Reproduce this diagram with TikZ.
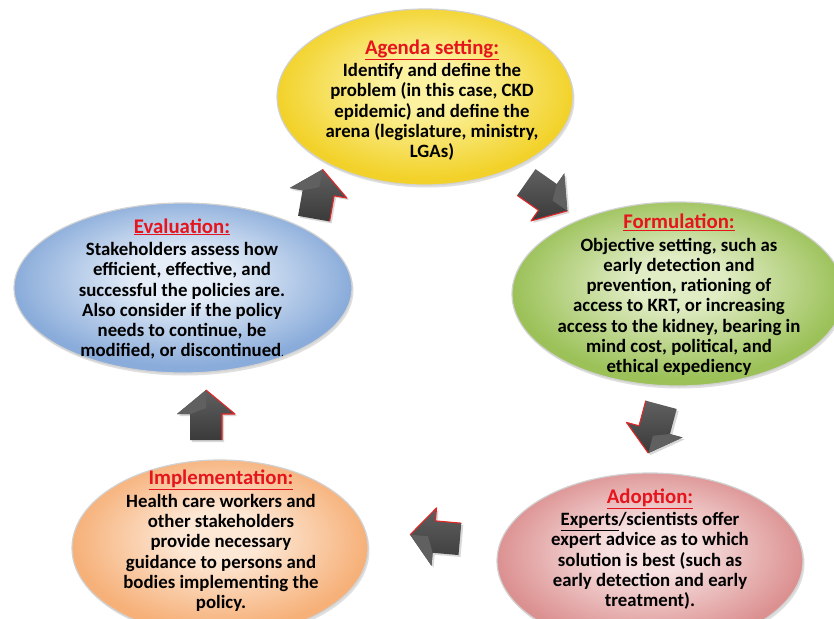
\documentclass[tikz,border=0pt]{standalone}
\usepackage{fontspec}
\setmainfont{Carlito}
\usetikzlibrary{shapes.geometric,shadows}
\definecolor{titlered}{RGB}{230,20,28}
\definecolor{yelin}{RGB}{252,242,160}
\definecolor{yelout}{RGB}{242,210,42}
\definecolor{grnin}{RGB}{224,236,196}
\definecolor{grnout}{RGB}{155,193,88}
\definecolor{bluin}{RGB}{228,237,248}
\definecolor{bluout}{RGB}{138,172,218}
\definecolor{orgin}{RGB}{253,232,214}
\definecolor{orgout}{RGB}{246,176,120}
\definecolor{redin}{RGB}{247,224,224}
\definecolor{redout}{RGB}{220,145,145}
\definecolor{arrdark}{RGB}{58,58,58}
\definecolor{arrlight}{RGB}{96,96,96}
\definecolor{arrred}{RGB}{225,40,40}
\newcommand\mkglossy[3]{\pgfdeclareradialshading{#1}{\pgfpoint{0bp}{4bp}}{color(0bp)=(#2); color(7bp)=(#2); color(25bp)=(#3); color(50bp)=(#3)}}
\mkglossy{glossyyel}{yelin}{yelout}
\mkglossy{glossygrn}{grnin}{grnout}
\mkglossy{glossyblu}{bluin}{bluout}
\mkglossy{glossyorg}{orgin}{orgout}
\mkglossy{glossyred}{redin}{redout}
\newcommand\ttl[1]{{\fontsize{20.8}{20.3}\selectfont\color{titlered}\underline{#1}}}
\newcommand\blockarr[2]{%
  \begin{scope}[shift={#1}, rotate=#2]
    \path[arrowbody] (-24,-16) -- (2,-16) -- (2,-29) -- (26,0) -- (2,29) -- (2,16) -- (-24,16) -- cycle;
    \fill[arrlight] (2,-29) -- (26,0) -- (8,0) -- (2,-16) -- cycle;
    \draw[arrowedge] (-24,16) -- (2,16) -- (2,29) -- (26,0);
  \end{scope}}
\tikzset{
  bubble/.style={ellipse, inner sep=0pt, draw=white!82!black, line width=1.2pt,
    shade, shading=#1,
    drop shadow={opacity=0.25, shadow xshift=1.5pt, shadow yshift=-2.5pt}},
  bodytext/.style={align=center, font=\fontsize{18.8}{20.3}\selectfont\bfseries, inner sep=0pt, text=black},
  arrowbody/.style={top color=arrlight, bottom color=arrdark, shading angle=0,
    drop shadow={opacity=0.3, shadow xshift=2pt, shadow yshift=-2pt}},
  arrowedge/.style={draw=arrred, line width=1.1pt, line join=round}
}
\begin{document}
\begin{tikzpicture}[x=1pt, y=-1pt]
\useasboundingbox[fill=white] (0,0) rectangle (834,618);
% ellipses
\node[bubble=glossyyel, minimum width=296pt, minimum height=176pt] (agenda) at (425,97) {};
\node[bubble=glossygrn, minimum width=332pt, minimum height=184pt] (formulation) at (678,294) {};
\node[bubble=glossyblu, minimum width=338pt, minimum height=170pt] (evaluation) at (183,288) {};
\node[bubble=glossyorg, minimum width=296pt, minimum height=176pt] (implementation) at (220,548) {};
\node[bubble=glossyred, minimum width=306pt, minimum height=176pt] (adoption) at (650,561) {};
% texts
\node[bodytext] (agenda-t) at (432,100) {\ttl{Agenda setting:}\\[2pt]
Identify and define the\\
problem (in this case, CKD\\
epidemic) and define the\\
arena (legislature, ministry,\\
LGAs)};
\node[bodytext] (formulation-t) at (679,295) {\ttl{Formulation:}\\[2pt]
Objective setting, such as\\
early detection and\\
prevention, rationing of\\
access to KRT, or increasing\\
access to the kidney, bearing in\\
mind cost, political, and\\
ethical expediency};
\node[bodytext] (adoption-t) at (650,549) {\ttl{Adoption:}\\[2pt]
\underline{Experts}/scientists offer\\
expert advice as to which\\
solution is best (such as\\
early detection and early\\
treatment).};
\node[bodytext] (implementation-t) at (221,541) {\ttl{Implementation:}\\[2pt]
Health care workers and\\
other stakeholders\\
provide necessary\\
guidance to persons and\\
bodies implementing the\\
policy.};
\node[bodytext] (evaluation-t) at (182,289) {\ttl{Evaluation:}\\[2pt]
Stakeholders assess how\\
efficient, effective, and\\
successful the policies are.\\
Also consider if the policy\\
needs to continue, be\\
modified, or discontinued{\fontsize{9}{10}\selectfont.}};
% block arrows
\blockarr{(318,195)}{80}
\blockarr{(546,196)}{-35}
\blockarr{(655,428)}{-105}
\blockarr{(436,537)}{175}
\blockarr{(206,416)}{90}
\end{tikzpicture}
\end{document}
